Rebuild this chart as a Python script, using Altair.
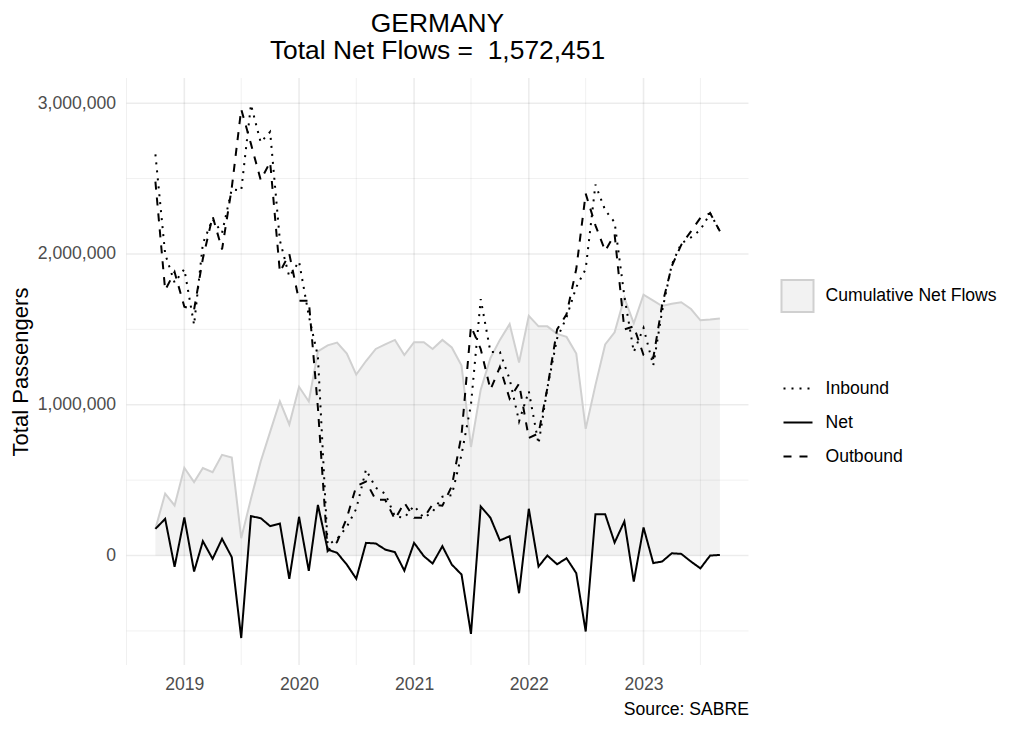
import altair as alt
import pandas as pd

# ---------------- data ----------------
months = pd.date_range("2018-10-01", periods=60, freq="MS").strftime("%Y-%m-%d").tolist()

series_names = ["Inbound", "Net", "Outbound"]

# passengers, in millions
inbound_m = [2.66, 2.00, 1.81, 1.90, 1.53, 2.07, 2.23, 2.14, 2.43, 2.42,
             2.99, 2.74, 2.81, 2.09, 1.85, 1.95, 1.59, 1.32, 0.07, 0.11,
             0.19, 0.31, 0.57, 0.45, 0.41, 0.26, 0.25, 0.33, 0.25, 0.29,
             0.39, 0.40, 0.67, 1.00, 1.70, 1.35, 1.35, 1.17, 0.89, 1.09,
             0.74, 1.11, 1.44, 1.58, 1.78, 1.90, 2.46, 2.29, 2.21, 1.72,
             1.35, 1.51, 1.26, 1.62, 1.93, 2.07, 2.11, 2.16, 2.27, 2.15]

outbound_m = [2.48, 1.76, 1.88, 1.65, 1.63, 1.97, 2.25, 2.03, 2.44, 2.96,
              2.73, 2.49, 2.61, 1.88, 2.00, 1.69, 1.69, 0.98, 0.03, 0.09,
              0.25, 0.46, 0.49, 0.37, 0.37, 0.24, 0.35, 0.25, 0.25, 0.34,
              0.33, 0.46, 0.80, 1.52, 1.37, 1.10, 1.25, 1.04, 1.14, 0.78,
              0.81, 1.11, 1.50, 1.60, 1.90, 2.40, 2.19, 2.02, 2.13, 1.50,
              1.52, 1.33, 1.31, 1.66, 1.92, 2.06, 2.15, 2.24, 2.27, 2.15]

net_m = [0.177, 0.243, -0.075, 0.252, -0.106, 0.095, -0.022, 0.111, -0.011, -0.547,
         0.261, 0.248, 0.195, 0.212, -0.155, 0.257, -0.102, 0.336, 0.040, 0.018,
         -0.060, -0.154, 0.084, 0.080, 0.040, 0.022, -0.100, 0.084, -0.004, -0.053,
         0.062, -0.060, -0.126, -0.520, 0.326, 0.250, 0.100, 0.128, -0.250, 0.310,
         -0.073, 0.000, -0.058, -0.018, -0.117, -0.504, 0.274, 0.274, 0.086, 0.226,
         -0.173, 0.186, -0.050, -0.040, 0.015, 0.011, -0.040, -0.085, 0.000, 0.004]

cumulative_m = [0.177, 0.411, 0.332, 0.582, 0.487, 0.580, 0.553, 0.668, 0.650, 0.115,
                0.376, 0.624, 0.820, 1.022, 0.869, 1.119, 1.022, 1.354, 1.394, 1.412,
                1.340, 1.200, 1.290, 1.370, 1.400, 1.430, 1.330, 1.415, 1.415, 1.370,
                1.430, 1.380, 1.260, 0.720, 1.100, 1.310, 1.430, 1.535, 1.280, 1.590,
                1.520, 1.520, 1.470, 1.450, 1.340, 0.840, 1.130, 1.400, 1.480, 1.710,
                1.540, 1.730, 1.690, 1.655, 1.670, 1.680, 1.635, 1.560, 1.565, 1.572451]

x_major = ["2019-01-01", "2020-01-01", "2021-01-01", "2022-01-01", "2023-01-01"]
x_minor = ["2018-07-01", "2019-07-01", "2020-07-01", "2021-07-01", "2022-07-01", "2023-07-01"]
y_major = [0, 1000000, 2000000, 3000000]
y_minor = [-500000, 500000, 1500000, 2500000]

title_text = "GERMANY"
subtitle_text = "Total Net Flows =\u00a0 1,572,451"
caption_text = "Source: SABRE"
y_title = "Total Passengers"
area_label = "Cumulative Net Flows"

# ---------------- tables ----------------
lines_df = pd.DataFrame({
    "month": months * 3,
    "series": [series_names[0]] * 60 + [series_names[1]] * 60 + [series_names[2]] * 60,
    "passengers": [v * 1e6 for v in inbound_m + net_m + outbound_m],
})
area_df = pd.DataFrame({
    "month": months,
    "cumulative": [v * 1e6 for v in cumulative_m],
    "label": [area_label] * 60,
})

FONT = "Liberation Sans"

x_scale = alt.Scale(
    type="utc",
    domain=[alt.DateTime(year=2018, month=7, date=1, utc=True),
            alt.DateTime(year=2023, month=12, date=1, utc=True)],
)
y_scale = alt.Scale(domain=[-726000, 3167000], nice=False, zero=False)

x_axis = alt.Axis(
    title=caption_text, titleAnchor="end", titleFontSize=17.6, titleFontWeight="normal",
    titleColor="black", titleFont=FONT, titlePadding=8,
    values=[alt.DateTime(year=int(d[:4]), month=1, date=1, utc=True) for d in x_major],
    format="%Y", formatType="utc",
    labelFontSize=17.6, labelColor="#4D4D4D", labelFont=FONT, labelPadding=10,
    grid=False, ticks=False, tickSize=0, domain=False,
)
y_axis = alt.Axis(
    title=y_title, titleFontSize=22, titleFontWeight="normal", titleColor="black",
    titleFont=FONT, titlePadding=5,
    values=y_major, format=",.0f",
    labelFontSize=17.6, labelColor="#4D4D4D", labelFont=FONT, labelPadding=11,
    grid=False, ticks=False, tickSize=0, domain=False,
)

X = lambda f: alt.X(f, scale=x_scale, axis=x_axis)
Y = lambda f: alt.Y(f, scale=y_scale, axis=y_axis)

area = alt.Chart(area_df).mark_area(opacity=1).encode(
    x=X("month:T"),
    y=Y("cumulative:Q"),
    y2=alt.datum(0),
    fill=alt.Fill("label:N", scale=alt.Scale(range=["#F2F2F2"]),
                  legend=alt.Legend(title=None, orient="none", legendX=654, legendY=201,
                                    symbolType="square", symbolSize=1024,
                                    symbolStrokeColor="#D0D0D0", symbolStrokeWidth=2,
                                    labelFontSize=17.6, labelFont=FONT, labelColor="black",
                                    labelOffset=11, labelLimit=400, padding=0)),
)

grid_major_x = alt.Chart(pd.DataFrame({"d": x_major})).mark_rule(
    color="black", opacity=0.075, strokeWidth=1.6).encode(x=X("d:T"))
grid_minor_x = alt.Chart(pd.DataFrame({"d": x_minor})).mark_rule(
    color="black", opacity=0.075, strokeWidth=0.8).encode(x=X("d:T"))
grid_major_y = alt.Chart(pd.DataFrame({"v": y_major})).mark_rule(
    color="black", opacity=0.075, strokeWidth=1.6).encode(y=Y("v:Q"))
grid_minor_y = alt.Chart(pd.DataFrame({"v": y_minor})).mark_rule(
    color="black", opacity=0.075, strokeWidth=0.8).encode(y=Y("v:Q"))

area_line = alt.Chart(area_df).mark_line(color="#D0D0D0", strokeWidth=2).encode(
    x=X("month:T"), y=Y("cumulative:Q"))

lines = alt.Chart(lines_df).mark_line(color="black", strokeWidth=2).encode(
    x=X("month:T"),
    y=Y("passengers:Q"),
    strokeDash=alt.StrokeDash(
        "series:N",
        scale=alt.Scale(domain=series_names, range=[[2, 6], [1, 0], [8, 8]]),
        legend=alt.Legend(title=None, orient="none", legendX=656, legendY=295,
                          symbolType="stroke", symbolSize=841,
                          symbolStrokeColor="black", symbolStrokeWidth=2,
                          labelFontSize=17.6, labelFont=FONT, labelColor="black",
                          labelOffset=12, labelLimit=400, rowPadding=9, padding=0),
    ),
)

chart = alt.layer(
    area, grid_minor_x, grid_minor_y, grid_major_x, grid_major_y, area_line, lines
).properties(
    width=622,
    height=587,
    padding={"left": 118.5, "top": 70, "right": 267.5, "bottom": 55},
    autosize=alt.AutoSizeParams(type="none"),
    title=alt.TitleParams(
        text=title_text, subtitle=subtitle_text, anchor="middle", frame="group",
        fontSize=26.4, subtitleFontSize=26.4, font=FONT, subtitleFont=FONT,
        fontWeight="normal", color="black", subtitleColor="black",
        offset=13, subtitlePadding=0,
    ),
).configure(font=FONT, background="white").configure_view(stroke=None)

chart.save("out.html", embed_options={"renderer": "svg", "actions": False})
